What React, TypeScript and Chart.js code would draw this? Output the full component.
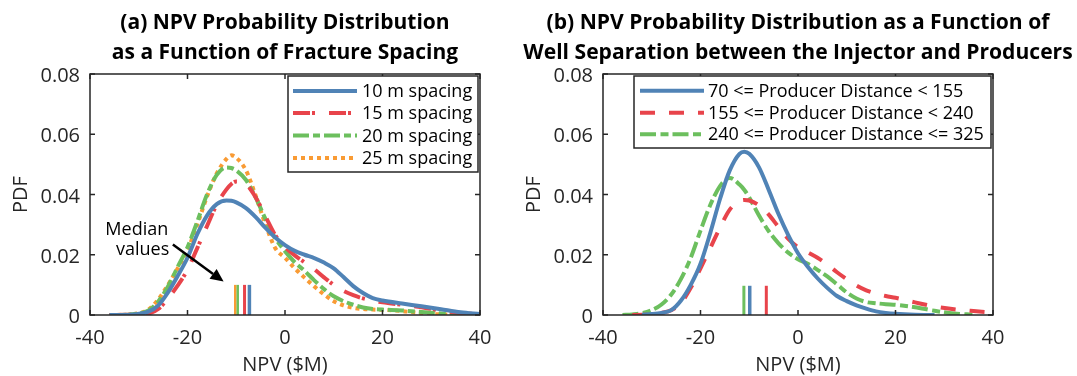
import React, { useEffect, useRef } from 'react';
import { Chart, registerables } from 'chart.js';

Chart.register(...registerables);

const FONT = '"Open Sans", sans-serif';
const AXIS_COLOR = '#262626';
const BLUE = '#5083b6';
const RED = '#e8444b';
const GREEN = '#6cbf5e';
const ORANGE = '#f99b34';

// ---------- Chart (a): fracture spacing ----------
const titleA = ['(a) NPV Probability Distribution', 'as a Function of Fracture Spacing'];
const titleWidthsA = [331, 345];
const labelsA = ['10 m spacing', '15 m spacing', '20 m spacing', '25 m spacing'];
const npvA = [-36, -32, -28, -26, -24, -22, -20, -18, -16, -14, -12, -11, -10, -8, -6, -4, -2, 0, 2, 4, 6, 8, 10, 12, 14, 16, 18, 20, 24, 28, 32, 36, 40];
const pdf10m = [0, 0.0001, 0.0011, 0.0032, 0.0075, 0.013, 0.019, 0.0268, 0.033, 0.0368, 0.038, 0.0379, 0.0374, 0.0355, 0.0325, 0.0289, 0.0257, 0.0232, 0.0213, 0.02, 0.0189, 0.0174, 0.0155, 0.0126, 0.0096, 0.0073, 0.0056, 0.0048, 0.0038, 0.0029, 0.0019, 0.0009, 0.0003];
const pdf15m = [0, 0.0001, 0.0005, 0.002, 0.0055, 0.0098, 0.015, 0.0222, 0.0295, 0.0367, 0.0417, 0.0435, 0.0443, 0.0434, 0.039, 0.0327, 0.0265, 0.0226, 0.0198, 0.0175, 0.0152, 0.0125, 0.01, 0.008, 0.0066, 0.0055, 0.0048, 0.0042, 0.0034, 0.0026, 0.0015, 0.0007, 0.0002];
const pdf20m = [0, 0.0002, 0.0015, 0.0045, 0.0095, 0.016, 0.0225, 0.031, 0.04, 0.0465, 0.049, 0.0488, 0.048, 0.0448, 0.039, 0.0318, 0.0255, 0.0212, 0.0175, 0.0147, 0.0115, 0.0086, 0.0062, 0.0046, 0.0034, 0.0025, 0.002, 0.0018, 0.0015, 0.001, 0.0005, 0.0002, 0.0001];
const pdf25m = [0, 0.0002, 0.0018, 0.0052, 0.01, 0.0155, 0.0215, 0.03, 0.0393, 0.047, 0.0518, 0.053, 0.0522, 0.048, 0.0395, 0.03, 0.0222, 0.019, 0.0155, 0.0124, 0.0095, 0.0068, 0.0046, 0.0032, 0.0024, 0.002, 0.0018, 0.0017, 0.0013, 0.0006, 0.0002, 0.0001, 0];
const medianA = [-7.3, -8.3, -9.7, -10.2];
const medianTopA = 0.01;
const noteLinesA = ['Median', 'values'];
const noteXA = [-30.4, -29.2];
const noteYA = [0.0282, 0.0216];
const arrowFromA = [-23.0, 0.0234];
const arrowToA = [-12.6, 0.0111];

// ---------- Chart (b): well separation ----------
const titleB = ['(b) NPV Probability Distribution as a Function of', 'Well Separation between the Injector and Producers'];
const titleWidthsB = [504, 549];
const labelsB = ['70 <= Producer Distance < 155', '155 <= Producer Distance < 240', '240 <= Producer Distance <= 325'];
const npvB = [-36, -34, -32, -30, -28, -26, -24, -22, -20, -18, -16, -14, -12, -11, -10, -8, -6, -4, -2, 0, 2, 4, 6, 8, 10, 12, 14, 16, 18, 20, 24, 28, 32, 36, 40];
const pdfNear = [null, null, 0.0001, 0.0003, 0.0007, 0.0016, 0.0048, 0.01, 0.017, 0.0272, 0.0385, 0.048, 0.0535, 0.0542, 0.0535, 0.049, 0.0415, 0.0335, 0.0265, 0.0205, 0.016, 0.0122, 0.009, 0.0063, 0.0046, 0.0032, 0.0021, 0.0012, 0.0007, 0.0004, 0.0001, 0, null, null, null];
const pdfMid = [null, 0, 0.0001, 0.0002, 0.0007, 0.0016, 0.004, 0.009, 0.0155, 0.0222, 0.029, 0.035, 0.0378, 0.0382, 0.038, 0.0364, 0.0333, 0.0292, 0.0253, 0.0225, 0.0208, 0.019, 0.0168, 0.0142, 0.0119, 0.0098, 0.0082, 0.0071, 0.0063, 0.0057, 0.0042, 0.0028, 0.0019, 0.0013, 0.0008];
const pdfFar = [0, 0.0002, 0.0006, 0.0016, 0.0035, 0.0068, 0.012, 0.019, 0.028, 0.0365, 0.0428, 0.0455, 0.0433, 0.0415, 0.039, 0.033, 0.0278, 0.0238, 0.0207, 0.0185, 0.017, 0.015, 0.0128, 0.0102, 0.0075, 0.0055, 0.0043, 0.0039, 0.0036, 0.0034, 0.0026, 0.0014, 0.0005, 0.0001, null];
const medianB = [-9.9, -6.5, -11.1];
const medianTopB = 0.0097;

// ---------- axes ----------
const xMin = -40, xMax = 40, xStep = 20;
const yMin = 0, yMax = 0.08, yStep = 0.02;
const xTitle = 'NPV ($M)';
const yTitle = 'PDF';

const toPoints = (xs: number[], ys: (number | null)[]) => xs.map((x, i) => ({ x, y: ys[i] }));

function fitTitleSize(lines: string[], targets: number[]) {
  try {
    const c = document.createElement('canvas').getContext('2d');
    if (!c) return 22;
    c.font = `bold 100px ${FONT}`;
    const sizes = lines.map((l, i) => (targets[i] / c.measureText(l).width) * 100);
    const s = sizes.reduce((a, b) => a + b, 0) / sizes.length;
    return isFinite(s) && s > 10 ? s : 22;
  } catch (e) {
    return 22;
  }
}

function curve(label: string, xs: number[], ys: (number | null)[], color: string, dash: number[]) {
  return {
    label,
    data: toPoints(xs, ys),
    yAxisID: 'y',
    borderColor: color,
    backgroundColor: color,
    borderWidth: 4,
    borderDash: dash,
    pointRadius: 0,
    fill: false,
    cubicInterpolationMode: 'monotone',
    spanGaps: false,
    inLegend: true,
  };
}

function medianBar(x: number, top: number, color: string, width: number) {
  return {
    label: 'median',
    data: [{ x, y: 0 }, { x, y: top }],
    yAxisID: 'y',
    borderColor: color,
    backgroundColor: color,
    borderWidth: width,
    borderDash: [],
    pointRadius: 0,
    fill: false,
    inLegend: false,
  };
}

const boxPlugin = {
  id: 'matlabBox',
  afterDatasetsDraw(chart: any) {
    const { ctx, chartArea: a } = chart;
    const xs = chart.scales.x, ys = chart.scales.y;
    const T = 5;
    ctx.save();
    ctx.strokeStyle = AXIS_COLOR;
    ctx.lineWidth = 1.5;
    ctx.setLineDash([]);
    ctx.strokeRect(a.left, a.top, a.right - a.left, a.bottom - a.top);
    ctx.beginPath();
    xs.ticks.forEach((t: any) => {
      const p = xs.getPixelForValue(t.value);
      ctx.moveTo(p, a.bottom); ctx.lineTo(p, a.bottom - T);
      ctx.moveTo(p, a.top); ctx.lineTo(p, a.top + T);
    });
    ys.ticks.forEach((t: any) => {
      const p = ys.getPixelForValue(t.value);
      ctx.moveTo(a.left, p); ctx.lineTo(a.left + T, p);
      ctx.moveTo(a.right, p); ctx.lineTo(a.right - T, p);
    });
    ctx.stroke();
    ctx.restore();
  },
};

const legendPlugin = {
  id: 'boxLegend',
  afterDatasetsDraw(chart: any, _args: any, opts: any) {
    if (!opts || !opts.show) return;
    const { ctx, chartArea: a } = chart;
    const left = a.left + opts.left;
    const top = a.top + opts.top;
    const right = a.right - opts.right;
    const bottom = a.top + opts.bottom;
    ctx.save();
    ctx.fillStyle = '#ffffff';
    ctx.fillRect(left, top, right - left, bottom - top);
    ctx.strokeStyle = AXIS_COLOR;
    ctx.lineWidth = 1.5;
    ctx.setLineDash([]);
    ctx.strokeRect(left, top, right - left, bottom - top);
    const items = chart.data.datasets.filter((d: any) => d.inLegend);
    items.forEach((d: any, i: number) => {
      const yy = a.top + opts.rows[i];
      ctx.beginPath();
      ctx.strokeStyle = d.borderColor;
      ctx.lineWidth = d.borderWidth;
      ctx.lineCap = 'butt';
      ctx.setLineDash(d.borderDash || []);
      ctx.moveTo(left + opts.sampleStart, yy);
      ctx.lineTo(left + opts.sampleEnd, yy);
      ctx.stroke();
      ctx.setLineDash([]);
      ctx.fillStyle = '#000';
      ctx.font = `18px ${FONT}`;
      ctx.textAlign = 'left';
      ctx.textBaseline = 'middle';
      ctx.fillText(d.label, left + opts.textStart, yy + 1);
    });
    ctx.restore();
  },
};

const notePlugin = {
  id: 'medianNote',
  afterDatasetsDraw(chart: any, _args: any, opts: any) {
    if (!opts || !opts.show) return;
    const { ctx } = chart;
    const xs = chart.scales.x, ys = chart.scales.y;
    ctx.save();
    ctx.fillStyle = '#000';
    ctx.font = `18px ${FONT}`;
    ctx.textAlign = 'center';
    ctx.textBaseline = 'middle';
    opts.lines.forEach((t: string, i: number) => {
      ctx.fillText(t, xs.getPixelForValue(opts.xs[i]), ys.getPixelForValue(opts.ys[i]));
    });
    const x1 = xs.getPixelForValue(opts.from[0]), y1 = ys.getPixelForValue(opts.from[1]);
    const x2 = xs.getPixelForValue(opts.to[0]), y2 = ys.getPixelForValue(opts.to[1]);
    const ang = Math.atan2(y2 - y1, x2 - x1);
    const hl = 13, hw = 6;
    const bx = x2 - hl * Math.cos(ang), by = y2 - hl * Math.sin(ang);
    ctx.strokeStyle = '#000';
    ctx.lineWidth = 2.5;
    ctx.beginPath();
    ctx.moveTo(x1, y1);
    ctx.lineTo(bx, by);
    ctx.stroke();
    ctx.beginPath();
    ctx.moveTo(x2, y2);
    ctx.lineTo(bx + hw * Math.sin(ang), by - hw * Math.cos(ang));
    ctx.lineTo(bx - hw * Math.sin(ang), by + hw * Math.cos(ang));
    ctx.closePath();
    ctx.fill();
    ctx.restore();
  },
};

function makeConfig(spec: any) {
  const titleSize = fitTitleSize(spec.title, spec.titleWidths);
  return {
    type: 'line',
    data: { datasets: spec.datasets },
    options: {
      animation: false,
      responsive: false,
      devicePixelRatio: 1,
      events: [],
      layout: { padding: 0 },
      plugins: {
        legend: { display: false },
        tooltip: { enabled: false },
        title: {
          display: true,
          text: spec.title,
          color: '#000',
          font: { family: FONT, size: titleSize, weight: 'bold', lineHeight: '30px' },
          padding: { top: 8, bottom: 6 },
        },
        boxLegend: spec.legend,
        medianNote: spec.note || { show: false },
      },
      scales: {
        x: {
          type: 'linear',
          min: xMin,
          max: xMax,
          ticks: {
            stepSize: xStep,
            padding: 11,
            color: AXIS_COLOR,
            font: { family: FONT, size: 20, lineHeight: '24px' },
            maxRotation: 0,
          },
          grid: { display: false, drawTicks: false },
          border: { display: false },
          title: {
            display: true,
            text: xTitle,
            color: AXIS_COLOR,
            font: { family: FONT, size: 20, lineHeight: '22px' },
            padding: { top: 0, bottom: 0 },
          },
          afterFit: (s: any) => { s.height = 61; },
        },
        y: {
          type: 'linear',
          position: 'left',
          min: yMin,
          max: yMax,
          ticks: {
            stepSize: yStep,
            padding: 10,
            labelOffset: 2.5,
            color: AXIS_COLOR,
            font: { family: FONT, size: 20, lineHeight: '24px' },
            callback: (v: number) => (v === 0 ? '0' : v.toFixed(2)),
          },
          grid: { display: false, drawTicks: false },
          border: { display: false },
          title: {
            display: true,
            text: yTitle,
            color: AXIS_COLOR,
            font: { family: FONT, size: 20, lineHeight: '24px' },
            padding: { top: spec.yTitlePad, bottom: 0 },
          },
          afterFit: (s: any) => { s.width = spec.yWidth; },
        },
        yRight: {
          type: 'linear',
          position: 'right',
          min: yMin,
          max: yMax,
          ticks: { display: false },
          grid: { display: false, drawTicks: false },
          border: { display: false },
          afterFit: (s: any) => { s.width = spec.padRight; },
        },
      },
    },
    plugins: [boxPlugin, legendPlugin, notePlugin],
  };
}

const configA = () =>
  makeConfig({
    title: titleA,
    titleWidths: titleWidthsA,
    padRight: 90,
    yWidth: 90,
    yTitlePad: 9.5,
    datasets: [
      curve(labelsA[0], npvA, pdf10m, BLUE, []),
      curve(labelsA[1], npvA, pdf15m, RED, [17, 2, 3, 14]),
      curve(labelsA[2], npvA, pdf20m, GREEN, [16, 4, 7, 4]),
      curve(labelsA[3], npvA, pdf25m, ORANGE, [4, 4]),
      medianBar(medianA[0], medianTopA, BLUE, 3.5),
      medianBar(medianA[1], medianTopA, RED, 3),
      medianBar(medianA[2], medianTopA, GREEN, 2.5),
      medianBar(medianA[3], medianTopA, ORANGE, 2.5),
    ],
    legend: { show: true, left: 198, top: 2, right: 2, bottom: 98, rows: [17, 39, 61.5, 84], sampleStart: 5, sampleEnd: 69, textStart: 74 },
    note: { show: true, lines: noteLinesA, xs: noteXA, ys: noteYA, from: arrowFromA, to: arrowToA },
  });

const configB = () =>
  makeConfig({
    title: titleB,
    titleWidths: titleWidthsB,
    padRight: 89,
    yWidth: 89,
    yTitlePad: 8.5,
    datasets: [
      curve(labelsB[0], npvB, pdfNear, BLUE, []),
      curve(labelsB[1], npvB, pdfMid, RED, [15, 14]),
      curve(labelsB[2], npvB, pdfFar, GREEN, [16, 4.5, 8, 4]),
      medianBar(medianB[0], medianTopB, BLUE, 3.5),
      medianBar(medianB[1], medianTopB, RED, 3),
      medianBar(medianB[2], medianTopB, GREEN, 3),
    ],
    legend: { show: true, left: 31, top: 2, right: 2, bottom: 74, rows: [16.7, 38.7, 60.3], sampleStart: 6, sampleEnd: 70, textStart: 74 },
  });

function ChartCanvas({ makeCfg, left, width }: { makeCfg: () => any; left: number; width: number }) {
  const ref = useRef<HTMLCanvasElement>(null);
  useEffect(() => {
    const chart = new Chart(ref.current as HTMLCanvasElement, makeCfg() as any);
    return () => chart.destroy();
  }, []);
  return (
    <canvas
      ref={ref}
      width={width}
      height={376}
      style={{ position: 'absolute', left, top: 0, width, height: 376 }}
    />
  );
}

export default function App() {
  return (
    <div style={{ position: 'absolute', left: 0, top: 0, width: 1077, height: 376, background: '#fff', overflow: 'hidden' }}>
      <ChartCanvas makeCfg={configA} left={0} width={570} />
      <ChartCanvas makeCfg={configB} left={514} width={568} />
    </div>
  );
}
